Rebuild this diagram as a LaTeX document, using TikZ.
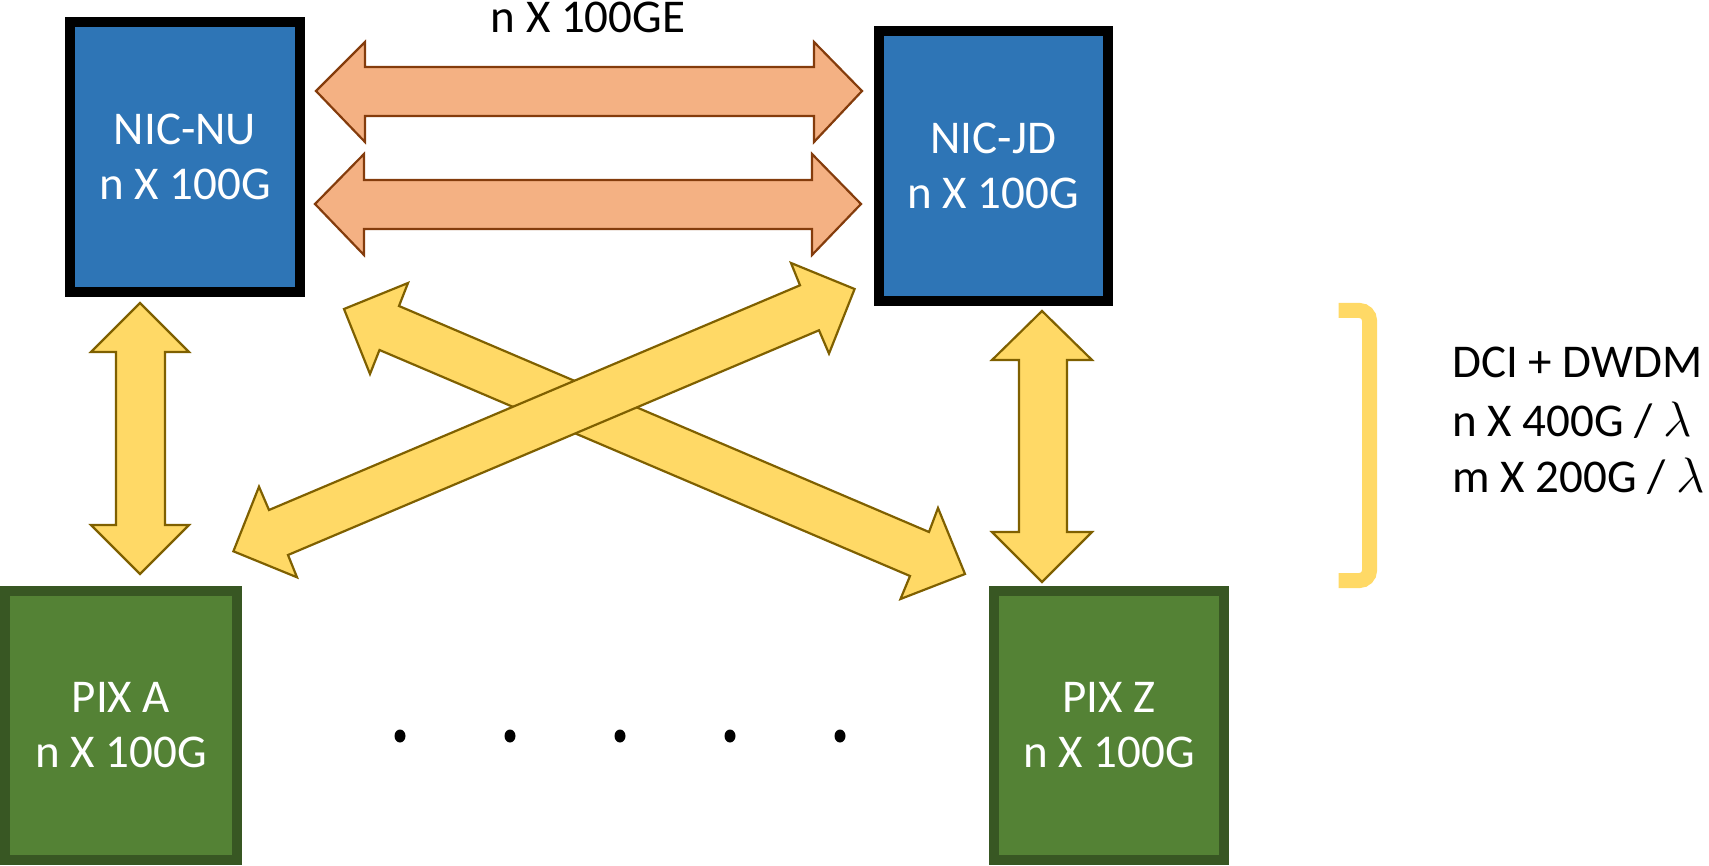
\documentclass[tikz,border=0pt]{standalone}
\usepackage{fontspec}
\setmainfont{Carlito}
\definecolor{nicblue}{HTML}{2E75B6}
\definecolor{pixgreen}{HTML}{548235}
\definecolor{pixborder}{HTML}{385723}
\definecolor{orfill}{HTML}{F4B183}
\definecolor{ordraw}{HTML}{843C0C}
\definecolor{yelfill}{HTML}{FFD966}
\definecolor{yeldraw}{HTML}{7F6000}
\begin{document}
\begin{tikzpicture}[x=0.5pt,y=-0.5pt,
  txt/.style={font=\fontsize{23.5}{27.5}\selectfont, align=center},
  nicbox/.style={txt, draw=black, line width=5pt, fill=nicblue, text=white, inner sep=0pt},
  pixbox/.style={txt, draw=pixborder, line width=5pt, fill=pixgreen, text=white, inner sep=0pt},
  orarrow/.style={fill=orfill, draw=ordraw, line width=1.1pt, line join=miter},
  yelarrow/.style={fill=yelfill, draw=yeldraw, line width=1.1pt, line join=miter},
  lbl/.style={font=\fontsize{23.5}{27.5}\selectfont, inner sep=0pt},
  dotmark/.style={fill=black, draw=none}
]
\useasboundingbox (0,0) rectangle (1709,866);

% boxes
\node[nicbox, minimum width=115pt, minimum height=135pt] (nu) at (185,157) {NIC-NU\\n X 100G};
\node[nicbox, minimum width=114.75pt, minimum height=135pt] (jd) at (993.25,166) {NIC-JD\\n X 100G};
\node[pixbox, minimum width=116pt, minimum height=134.5pt] (pa) at (121,725.5) {PIX A\\n X 100G};
\node[pixbox, minimum width=115pt, minimum height=134.5pt] (pz) at (1109,725.5) {PIX Z\\n X 100G};

% title
\node[lbl, anchor=base] (title) at (588,33) {n X 100GE};

% orange double arrows
\draw[orarrow] (316,91) -- (365,42) -- (365,67) -- (814,67) -- (814,42) -- (862,91)
  -- (814,142) -- (814,116) -- (365,116) -- (365,142) -- cycle;
\draw[orarrow] (315,204) -- (364,154) -- (364,180) -- (812,180) -- (812,154) -- (861,204)
  -- (812,255) -- (812,229) -- (364,229) -- (364,255) -- cycle;

% vertical yellow arrows
\draw[yelarrow] (140,303) -- (189,352) -- (165,352) -- (165,525) -- (189,525) -- (140,574)
  -- (91,525) -- (116,525) -- (116,352) -- (91,352) -- cycle;
\draw[yelarrow] (1042,311) -- (1092,360) -- (1067,360) -- (1067,532) -- (1092,532) -- (1042,582)
  -- (992,532) -- (1019,532) -- (1019,360) -- (992,360) -- cycle;

% diagonal arrows
\draw[yelarrow] (344,309) -- (408,283) -- (399,306) -- (929,532) -- (938,508) -- (965,574)
  -- (900.5,599) -- (910,576) -- (379.5,350) -- (370,374) -- cycle;
\draw[yelarrow] (233.4,551.3) -- (259,486.7) -- (269,510) -- (800,285.3) -- (791,263) -- (854.6,289)
  -- (829,353.6) -- (819,330.3) -- (288,555) -- (297,577.3) -- cycle;

% bracket
\draw[yelfill, line width=7.5pt, rounded corners=5pt] (1338.6,310.5) -- (1369.5,310.5) -- (1369.5,580.5) -- (1338.6,580.5);

% right label
\node[lbl, anchor=base west] (l1) at (1452,377.3) {DCI + DWDM};
\node[lbl, anchor=base west] (l2) at (1452,436.7) {n X 400G / $\lambda$};
\node[lbl, anchor=base west] (l3) at (1452,492.3) {m X 200G / $\lambda$};

% dots
\foreach \i/\xx in {1/400,2/510,3/620,4/730,5/840}
  \fill[dotmark] (\xx,736) ellipse [x radius=5.5, y radius=6.5];
\end{tikzpicture}
\end{document}
